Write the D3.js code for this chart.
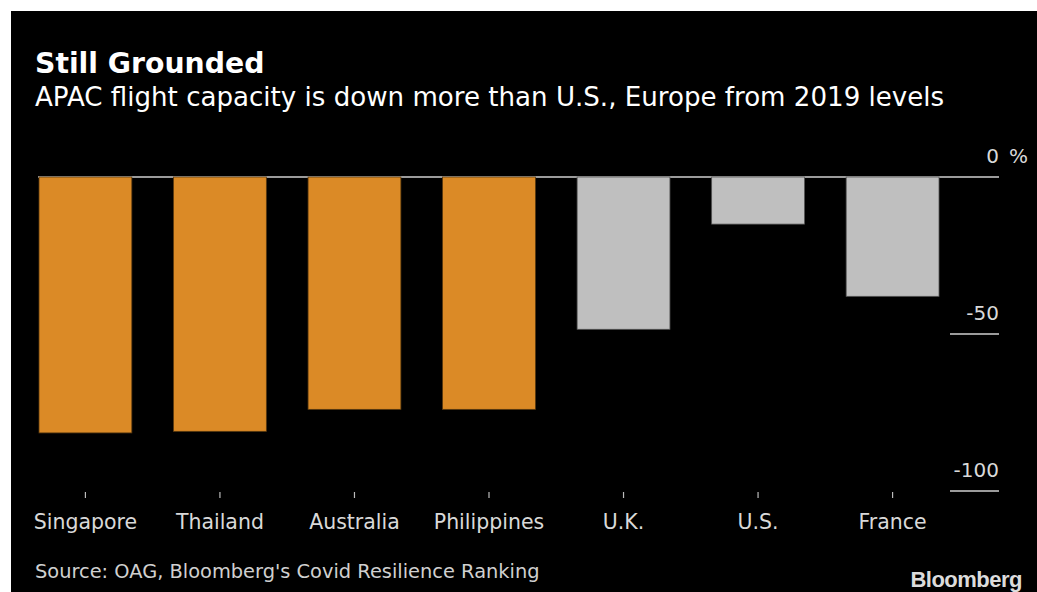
<!DOCTYPE html>
<html>
<head>
<meta charset="utf-8">
<script src="https://cdn.jsdelivr.net/npm/d3@7"></script>
<style>
  html, body { margin: 0; padding: 0; background: #fff; }
  svg { display: block; }
</style>
</head>
<body>
<div id="chart"></div>
<script>
// data
const countries = ["Singapore", "Thailand", "Australia", "Philippines", "U.K.", "U.S.", "France"];
const change = [-81.5, -81, -74, -74, -48.5, -15, -38];
const region = ["APAC", "APAC", "APAC", "APAC", "other", "other", "other"];
const yTicks = [0, -50, -100];

const width = 1037, height = 592;
const font = "'DejaVu Sans', sans-serif";

const svg = d3.select("#chart").append("svg")
    .attr("width", width)
    .attr("height", height);

svg.append("rect")
    .attr("x", 11).attr("y", 11)
    .attr("width", width - 11).attr("height", height - 11)
    .attr("fill", "#000");

let x = d3.scaleBand()
    .domain(countries)
    .range([39, 939])
    .paddingInner(0.31)
    .paddingOuter(0);

let y = d3.scaleLinear()
    .domain([0, -100])
    .range([177, 491]);

let color = d3.scaleOrdinal()
    .domain(["APAC", "other"])
    .range(["#db8a26", "#bfbfbf"]);

// gridlines on the right, zero line runs across
svg.append("g")
    .selectAll("line")
    .data(yTicks)
    .join("line")
    .attr("x1", d => d === 0 ? 38 : 950)
    .attr("x2", 999)
    .attr("y1", d => y(d))
    .attr("y2", d => y(d))
    .attr("stroke", "#cfcfcf")
    .attr("stroke-width", 1.5);

svg.append("g")
    .selectAll("text")
    .data(yTicks)
    .join("text")
    .attr("x", 999)
    .attr("y", d => y(d) - 14)
    .attr("text-anchor", "end")
    .attr("fill", "#d9d9d9")
    .style("font", `20px ${font}`)
    .text(d => d === 0 ? "0" : "-" + Math.abs(d));

svg.append("text")
    .attr("x", 1009)
    .attr("y", y(0) - 14)
    .attr("fill", "#d9d9d9")
    .style("font", `20px ${font}`)
    .text("%");

// bars
svg.append("g")
    .selectAll("rect")
    .data(countries)
    .join("rect")
    .attr("x", d => x(d))
    .attr("y", y(0))
    .attr("width", x.bandwidth())
    .attr("height", (d, i) => y(change[i]) - y(0))
    .attr("fill", (d, i) => color(region[i]))
    .attr("stroke", (d, i) => region[i] === "APAC" ? "#5a3a10" : "#555")
    .attr("stroke-width", 0.8);

// category ticks + labels
const xa = svg.append("g");
xa.selectAll("line")
    .data(countries)
    .join("line")
    .attr("x1", d => x(d) + x.bandwidth() / 2)
    .attr("x2", d => x(d) + x.bandwidth() / 2)
    .attr("y1", 492)
    .attr("y2", 498)
    .attr("stroke", "#bbb")
    .attr("stroke-width", 1.2);

xa.selectAll("text")
    .data(countries)
    .join("text")
    .attr("x", d => x(d) + x.bandwidth() / 2)
    .attr("y", 529)
    .attr("text-anchor", "middle")
    .attr("fill", "#d9d9d9")
    .style("font", `20.5px ${font}`)
    .text(d => d);

// headings
svg.append("text")
    .attr("x", 35).attr("y", 73)
    .attr("fill", "#fff")
    .style("font", `bold 28.3px ${font}`)
    .text("Still Grounded");

svg.append("text")
    .attr("x", 35).attr("y", 106)
    .attr("fill", "#fff")
    .style("font", `26.1px ${font}`)
    .text("APAC flight capacity is down more than U.S., Europe from 2019 levels");

svg.append("text")
    .attr("x", 35).attr("y", 578)
    .attr("fill", "#d0d0d0")
    .style("font", `19.4px ${font}`)
    .text("Source: OAG, Bloomberg's Covid Resilience Ranking");

svg.append("text")
    .attr("x", 1022).attr("y", 587)
    .attr("text-anchor", "end")
    .attr("fill", "#dcdcdc")
    .style("font", `bold 22px 'Liberation Sans', Arial, sans-serif`)
    .style("letter-spacing", "-0.5px")
    .text("Bloomberg");
</script>
</body>
</html>
